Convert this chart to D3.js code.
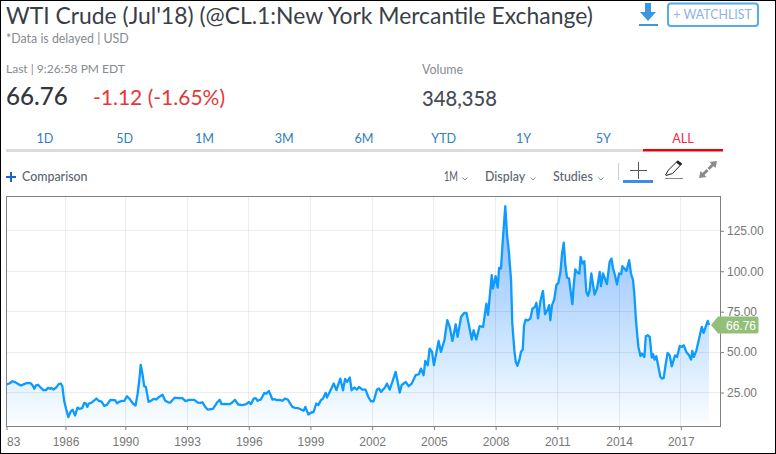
<!DOCTYPE html>
<html>
<head>
<meta charset="utf-8">
<script src="https://cdn.jsdelivr.net/npm/d3@7"></script>
<style>
html,body{margin:0;padding:0;background:#fff;overflow:hidden}
svg{display:block}
text{font-family:Lato,"Open Sans",sans-serif}
.axis text{font-family:"Liberation Sans",Arial,sans-serif;font-size:12px;fill:#777}
</style>
</head>
<body>
<svg id="c" width="776" height="454"></svg>
<script>
const dates = [1983.26,1983.40,1983.58,1983.73,1983.89,1984.04,1984.20,1984.34,1984.56,1984.67,1984.76,1984.85,1984.96,1985.10,1985.25,1985.39,1985.50,1985.61,1985.68,1985.79,1985.93,1986.08,1986.19,1986.28,1986.37,1986.48,1986.62,1986.76,1986.88,1987.02,1987.16,1987.28,1987.44,1987.56,1987.66,1987.74,1987.84,1988.00,1988.16,1988.28,1988.43,1988.59,1988.75,1988.91,1989.11,1989.39,1989.51,1989.67,1989.81,1989.95,1990.08,1990.21,1990.37,1990.50,1990.60,1990.68,1990.75,1990.83,1990.92,1991.00,1991.13,1991.25,1991.38,1991.51,1991.64,1991.81,1991.94,1992.11,
1992.19,1992.32,1992.41,1992.58,1992.77,1992.93,1993.10,1993.35,1993.52,1993.65,1993.74,1993.91,1994.00,1994.26,1994.46,1994.59,1994.68,1994.86,1995.07,1995.20,1995.33,1995.49,1995.69,1995.88,1996.01,1996.11,1996.24,1996.34,1996.43,1996.59,1996.76,1996.85,1996.98,1997.15,1997.27,1997.37,1997.50,1997.63,1997.76,1997.89,1998.12,1998.25,1998.41,1998.54,1998.67,1998.75,1998.90,1999.06,1999.15,1999.28,1999.38,1999.51,1999.61,1999.74,1999.80,1999.96,2000.13,2000.26,
2000.45,2000.58,2000.68,2000.78,2000.91,2001.00,2001.13,2001.26,2001.36,2001.52,2001.68,2001.81,2001.94,2002.07,2002.23,2002.33,2002.43,2002.62,2002.72,2002.85,2002.98,2003.14,2003.34,2003.43,2003.63,2003.77,2003.92,2004.11,2004.27,2004.37,2004.50,2004.58,2004.70,2004.79,2004.91,2005.00,2005.23,2005.34,2005.51,2005.65,2005.77,2005.90,2006.06,2006.15,2006.32,2006.48,2006.58,2006.84,2006.93,2007.06,2007.22,2007.39,2007.55,2007.63,
2007.81,2007.87,2008.00,2008.10,2008.17,2008.26,2008.36,2008.47,2008.55,2008.65,2008.75,2008.81,2008.91,2008.98,2009.06,2009.17,2009.23,2009.32,2009.38,2009.46,2009.56,2009.69,2009.79,2009.91,2009.98,2010.06,2010.17,2010.30,2010.40,2010.53,2010.60,2010.66,2010.74,2010.85,2010.95,2011.05,2011.15,2011.23,2011.31,2011.39,2011.47,2011.57,2011.63,2011.73,2011.79,2011.87,2011.99,2012.07,2012.13,2012.22,2012.31,2012.41,2012.49,2012.57,2012.65,2012.81,2012.93,2013.06,2013.12,2013.22,2013.41,2013.54,
2013.63,2013.71,2013.80,2013.90,2014.00,2014.10,2014.16,2014.26,2014.36,2014.49,2014.58,2014.68,2014.74,2014.81,2014.87,2014.94,2015.04,2015.10,2015.17,2015.23,2015.30,2015.39,2015.49,2015.59,2015.65,2015.73,2015.81,2016.01,2016.09,2016.17,2016.27,2016.36,2016.46,2016.56,2016.72,2016.82,2016.95,2017.05,2017.14,2017.27,2017.40,2017.50,2017.56,2017.63,2017.76,2018.02,2018.11,2018.31,2018.37];
const closes = [30.0,30.6,32.0,31.4,30.2,29.3,30.2,30.8,30.8,29.3,27.3,29.5,29.8,28.1,26.5,26.5,27.9,27.3,27.9,26.9,27.9,30.2,30.6,28.9,20.3,15.1,9.8,13.3,14.3,10.8,15.7,14.9,15.3,18.6,18.2,16.1,18.2,18.8,20.1,21.3,19.9,19.4,16.8,17.4,20.5,20.3,18.4,19.4,19.9,19.9,22.7,21.1,18.2,17.0,24.4,32.6,42.1,36.8,28.9,28.5,19.2,19.9,21.1,20.7,22.3,23.6,19.9,18.8,
18.8,20.7,21.9,21.5,21.5,19.7,20.5,20.5,18.8,18.6,19.0,15.7,14.5,14.9,18.8,20.5,17.8,18.0,17.8,18.8,20.5,17.6,17.2,17.8,19.2,17.8,21.3,21.5,19.9,20.7,24.8,24.2,26.0,20.7,20.9,20.3,20.5,19.9,21.3,20.7,16.1,15.5,15.3,14.5,13.7,16.1,11.4,12.8,12.8,18.2,17.2,20.3,21.3,24.8,21.9,26.0,30.6,26.5,
33.6,26.4,33.4,31.6,34.3,26.4,28.1,26.8,28.5,26.8,26.8,22.3,19.6,19.6,26.8,27.5,25.4,28.1,30.5,26.8,31.6,37.8,25.0,29.5,31.6,28.9,30.5,35.7,36.3,39.8,35.7,44.6,41.9,52.2,50.1,41.9,56.9,50.1,57.3,69.7,65.6,56.9,67.2,59.4,71.8,74.3,74.3,57.8,63.5,57.8,66.0,65.6,80.0,73.0,
97.5,89.3,96.9,89.9,102.1,101.7,121.3,140.2,123.3,111.0,94.5,67.7,51.2,43.9,41.5,46.0,50.1,51.6,66.6,70.1,69.5,70.8,76.9,78.0,80.5,70.8,81.1,87.9,73.4,76.3,79.0,69.7,79.0,82.5,91.4,92.8,99.6,111.0,117.6,103.7,96.1,95.5,89.3,79.6,90.3,101.1,99.0,98.6,108.9,104.8,106.2,87.2,84.8,88.3,98.6,85.6,89.3,99.6,90.8,98.6,92.0,105.8,
107.8,101.7,97.5,91.8,98.6,98.2,103.1,101.7,100.2,106.8,98.6,94.4,86.2,71.8,62.5,53.2,47.6,49.1,48.0,47.0,59.8,60.4,59.4,46.6,48.7,45.4,47.4,34.6,33.6,34.0,42.9,49.5,48.0,41.2,48.0,47.0,53.8,53.2,54.2,50.1,48.0,45.4,50.7,47.0,51.1,65.6,61.9,69.3,66.76];
const xTickDates = [1983.25,1986.45,1990,1993,1996,1999,2002,2005,2008,2011,2014,2017];
const xTickLabels = ["83","1986","1990","1993","1996","1999","2002","2005","2008","2011","2014","2017"];
const yTicks = [25,50,75,100,125];
const rangeTabs = ["1D","5D","1M","3M","6M","YTD","1Y","5Y","ALL"];
const lastValue = 66.76;

const points = dates.map((d,i)=>({d,v:closes[i]}));
const svg = d3.select("#c");
const L=6.5,R=720.5,T=196.5,B=426.5;
const x = d3.scaleLinear().domain([1983.25,1986.45,1990,2018.93]).range([L,65.5,125.3,R]);
const y = d3.scaleLinear().domain([4.0,146.2]).range([B,T]);

// page frame
svg.append("rect").attr("x",.5).attr("y",.5).attr("width",775).attr("height",453).attr("fill","#fff").attr("stroke","#000");

// header
const txt=(s,px,py,size,color,o={})=>svg.append("text").attr("x",px).attr("y",py).attr("font-size",size).attr("fill",color)
  .attr("font-weight",o.w||400).attr("text-anchor",o.a||"start").text(s);
txt("WTI Crude (Jul'18) (@CL.1:New York Mercantile Exchange)",6,24,22.9,"#3a3f47");
txt("*Data is delayed | USD",6,43,12.4,"#868b90");
txt("Last | 9:26:58 PM EDT",6,73,12,"#868b90");
txt("66.76",6,105,24.2,"#33373d",{w:500});
txt("-1.12 (-1.65%)",93,105,21,"#e5383b");
txt("Volume",422,74,12.4,"#868b90");
txt("348,358",422,106,20.2,"#464c57",{w:500});

// download icon
const blue="#3b97de";
svg.append("path").attr("d","M645 3h6v9h5l-8 9-8-9h5z").attr("fill",blue);
svg.append("rect").attr("x",639).attr("y",24).attr("width",19).attr("height",2).attr("fill",blue);
// watchlist
svg.append("rect").attr("x",668).attr("y",3.5).attr("width",90).attr("height",22.5).attr("rx",3).attr("fill","#fff").attr("stroke","#55aceb").attr("stroke-width",2);
txt("+ WATCHLIST",712.5,19,12.4,"#8db3e8",{a:"middle"});

// tabs
const tabX=d3.scalePoint().domain(rangeTabs).range([45,683]);
svg.append("g").selectAll("text").data(rangeTabs).join("text")
  .attr("x",d=>tabX(d)).attr("y",143).attr("text-anchor","middle").attr("font-size",12.6)
  .attr("fill",d=>d==="ALL"?"#ef2b45":"#2f80bd").text(d=>d);
svg.append("rect").attr("x",6).attr("y",149).attr("width",637).attr("height",3).attr("fill","#dcdcdc");
svg.append("rect").attr("x",643).attr("y",149).attr("width",80).attr("height",2.5).attr("fill","#f00000");

// toolbar
svg.append("path").attr("d","M6 177h10M11 172v10").attr("stroke","#1b66c9").attr("stroke-width",2).attr("fill","none");
txt("Comparison",22,181,12.4,"#5d6670",{w:500});
const menu=[["1M",444,465,14],["Display",485,533,0],["Studies",553,601,0]];
menu.forEach(([s,a,c,w])=>{
  const t=txt(s,a,181,12.4,"#5d6670",{w:500});
  if(w) t.attr("textLength",w).attr("lengthAdjust","spacingAndGlyphs");
  svg.append("path").attr("d",`M${c-2.5} 177.5l2.5 2.5 2.5-2.5`).attr("stroke","#8a8f95").attr("fill","none");
});
svg.append("line").attr("x1",618.5).attr("x2",618.5).attr("y1",163).attr("y2",180).attr("stroke","#ccc");
svg.append("path").attr("d","M630 170.5h17M638.5 162v17").attr("stroke","#555").attr("stroke-width",1).attr("fill","none");
svg.append("rect").attr("x",623).attr("y",180).attr("width",30).attr("height",3).attr("fill","#3d8ee8");
svg.append("path").attr("d","M665.5 175l3-5 9-9 4 3-9 9.5-6.5 2z").attr("fill","#fff").attr("stroke","#222");
svg.append("path").attr("d","M676 162.5l2-2 4 3-2 2z").attr("fill","#222");
svg.append("line").attr("x1",665).attr("x2",683).attr("y1",178.5).attr("y2",178.5).attr("stroke","#888");
svg.append("path").attr("d","M717 161l-7.5 1 2 2-4 4 2 2 4-4 2 2zM699 178l7.5-1-2-2 4-4-2-2-4 4-2-2z").attr("fill","#8a8a8a");

// gradient
const g=svg.append("defs").append("linearGradient").attr("id","fill").attr("gradientUnits","userSpaceOnUse")
  .attr("x1",0).attr("x2",0).attr("y1",205).attr("y2",424);
[[0,"#8dbbfb"],[.45,"#b9d9fe"],[.7,"#d5eaff"],[1,"#fbfdff"]].forEach(([o,c])=>g.append("stop").attr("offset",o).attr("stop-color",c));

// area + grid + line
const floor=y(5.6);
svg.append("path").datum(points).attr("fill","url(#fill)")
  .attr("d",d3.area().x(d=>x(d.d)).y0(floor).y1(d=>y(d.v)));
const grid=svg.append("g").attr("stroke","#000").attr("stroke-opacity",.07);
xTickDates.slice(1).forEach(d=>{const px=Math.round(x(d)-.5)+.5;grid.append("line").attr("x1",px).attr("x2",px).attr("y1",T).attr("y2",B);});
yTicks.forEach(v=>{const py=Math.round(y(v)-.5)+.5;grid.append("line").attr("x1",L).attr("x2",R).attr("y1",py).attr("y2",py);});
svg.append("path").datum(points).attr("fill","none").attr("stroke","#0c9bff").attr("stroke-width",2.3).attr("stroke-linejoin","round")
  .attr("d",d3.line().x(d=>x(d.d)).y(d=>y(d.v)));

// axes
svg.append("rect").attr("x",L).attr("y",T).attr("width",R-L).attr("height",B-T).attr("fill","none").attr("stroke","#808080");
const xAxis=d3.axisBottom(x).tickValues(xTickDates).tickSize(4).tickPadding(7).tickFormat((d,i)=>xTickLabels[i]);
const xg=svg.append("g").attr("class","axis").attr("transform",`translate(0,${B-.5})`).call(xAxis);
xg.select(".domain").remove();
xg.selectAll(".tick line").attr("stroke","#808080");
xg.selectAll(".tick text").filter((d,i)=>i===0).attr("text-anchor","start");
const yAxis=d3.axisRight(y).tickValues(yTicks).tickSize(4).tickPadding(3).tickFormat(d3.format(".2f"));
const yg=svg.append("g").attr("class","axis").attr("transform",`translate(${R-.5},0)`).call(yAxis);
yg.select(".domain").remove();
yg.selectAll(".tick line").attr("stroke","#808080");

// last price badge
const by=325;
svg.append("path").attr("d",`M711 ${by}L718 ${by-8.5}H756.5a2 2 0 0 1 2 2V${by+6.5}a2 2 0 0 1 -2 2H718Z`).attr("fill","#93bf7b");
svg.append("text").attr("x",726).attr("y",by+4.5).attr("fill","#fff").style("font-family","'Liberation Sans',Arial,sans-serif").attr("font-size",12).text(lastValue.toFixed(2));
</script>
</body>
</html>
